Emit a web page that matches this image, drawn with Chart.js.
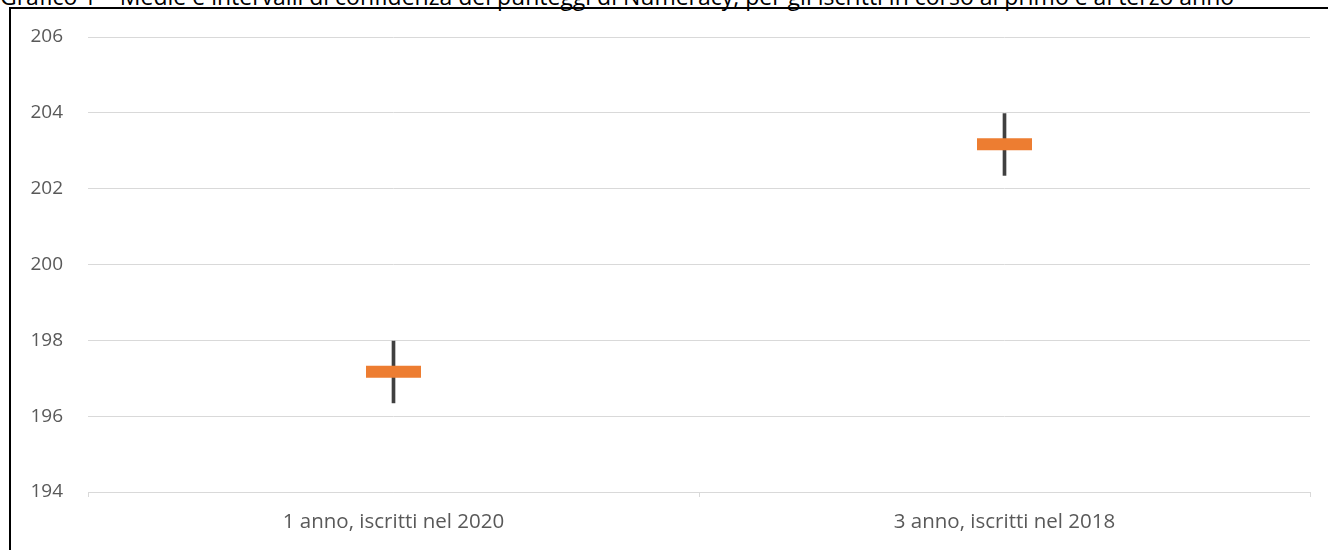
<!DOCTYPE html>
<html lang="it">
<head>
<meta charset="UTF-8">
<title>Medie e intervalli di confidenza</title>
<style>
  body { margin: 0; background: #fff; font-family: "Open Sans", sans-serif; }
  #wrap { position: relative; width: 1328px; height: 550px; overflow: hidden; }
  #title { position: absolute; left: 0; top: -20px; font-size: 23px; color: #000; white-space: nowrap; }
  #frame { position: absolute; left: 9px; top: 7px; right: 0; bottom: 0; border-left: 2px solid #000; border-top: 2px solid #000; pointer-events: none; }
  canvas { position: absolute; left: 0; top: 0; }
</style>
</head>
<body>
<div id="wrap">
  <div id="title">Grafico 1 – Medie e intervalli di confidenza dei punteggi di Numeracy, per gli iscritti in corso al primo e al terzo anno</div>
  <canvas id="chart" width="1328" height="550"></canvas>
  <div id="frame"></div>
</div>

<script src="https://cdn.jsdelivr.net/npm/chart.js@4/dist/chart.umd.min.js"></script>
<script>
// values
const categories = ['1 anno, iscritti nel 2020', '3 anno, iscritti nel 2018'];
const means = [197.17, 203.17];
const lower = [196.35, 202.35];
const upper = [197.98, 203.98];

const ctx = document.getElementById('chart').getContext('2d');
new Chart(ctx, {
    type: 'bar',
    data: {
        labels: categories,
        datasets: [
            {
                type: 'line',
                label: 'Media',
                data: means,
                showLine: false,
                pointStyle: 'line',
                pointRadius: 27.5,
                pointHoverRadius: 27.5,
                pointBorderWidth: 12,
                borderColor: '#ED7D31',
                backgroundColor: '#ED7D31',
                order: 0
            },
            {
                label: 'Intervallo',
                data: lower.map((l, i) => [l, upper[i]]),
                backgroundColor: '#404040',
                barThickness: 3,
                order: 1
            }
        ]
    },
    options: {
        responsive: false,
        animation: false,
        layout: { autoPadding: false, padding: { top: 37, right: 18, left: 0, bottom: 0 } },
        plugins: {
            legend: { display: false },
            tooltip: { enabled: false }
        },
        scales: {
            x: {
                grid: { drawOnChartArea: false, tickLength: 5, color: '#d9d9d9', offset: true },
                border: { color: '#d9d9d9' },
                ticks: { color: '#595959', font: { family: 'Open Sans', size: 20.5 }, padding: 13 },
                afterFit(scale) { scale.height = 58; }
            },
            y: {
                min: 194,
                max: 206,
                ticks: { stepSize: 2, color: '#595959', font: { family: 'Open Sans', size: 19 }, padding: 25 },
                grid: { color: '#d9d9d9', drawTicks: false },
                border: { display: false },
                afterFit(scale) { scale.width = 88; }
            }
        }
    }
});
</script>
</body>
</html>
